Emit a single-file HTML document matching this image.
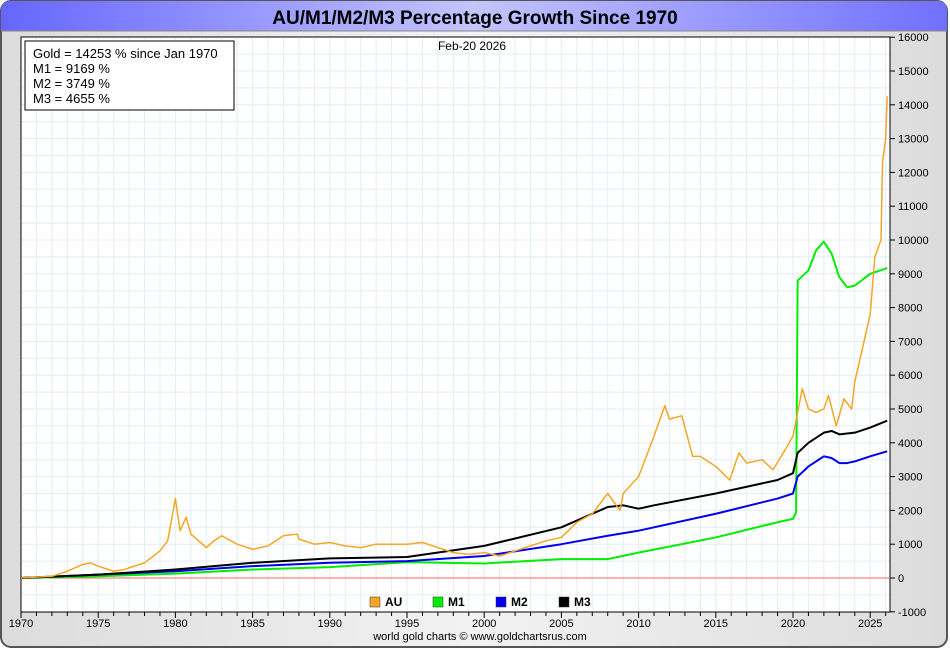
<!DOCTYPE html>
<html><head><meta charset="utf-8"><style>
body{margin:0;width:950px;height:650px;overflow:hidden;background:#fff;font-family:"Liberation Sans",sans-serif}
</style></head><body>
<svg id="c" width="950" height="650" xmlns="http://www.w3.org/2000/svg" font-family="Liberation Sans, sans-serif">
<defs>
<linearGradient id="tg" x1="0" x2="1"><stop offset="0" stop-color="#6666ff"/><stop offset="0.5" stop-color="#c4c4ff"/><stop offset="1" stop-color="#7070ff"/></linearGradient>
<linearGradient id="bg" x1="0" x2="1"><stop offset="0" stop-color="#dcdcdc"/><stop offset="0.5" stop-color="#f2f2f2"/><stop offset="1" stop-color="#dcdcdc"/></linearGradient>
</defs>
<rect x="1" y="1" width="946" height="646" rx="10" fill="url(#bg)" stroke="#555" stroke-width="2"/>
<path d="M1 31 V11 Q1 1 11 1 H937 Q947 1 947 11 V31 Z" fill="url(#tg)"/>
<line x1="1" y1="31" x2="947" y2="31" stroke="#888"/>
<text x="475" y="24" text-anchor="middle" font-size="19" font-weight="bold" fill="#000">AU/M1/M2/M3 Percentage Growth Since 1970</text>
<rect x="21" y="37" width="869" height="575" fill="#fff" stroke="#000"/>
<g id="grid"></g>
<g id="series"></g>
<g id="axes"></g>
<text x="472" y="50" text-anchor="middle" font-size="12">Feb-20  2026</text>
<rect x="25" y="41" width="209" height="69" fill="#fff" stroke="#000"/>
<text font-size="13"><tspan x="33" y="58">Gold = 14253 % since Jan 1970</tspan><tspan x="33" y="73">M1 = 9169 %</tspan><tspan x="33" y="88">M2 = 3749 %</tspan><tspan x="33" y="103">M3 = 4655 %</tspan></text>
<g id="legend" font-size="12" font-weight="bold"></g>
<text x="480" y="640" text-anchor="middle" font-size="11">world gold charts © www.goldchartsrus.com</text>
</svg>
<script>
const goldX=[1970,1972,1973,1974,1974.5,1975,1976,1976.7,1977,1978,1979,1979.5,1980.0,1980.3,1980.7,1981,1982,1982.5,1983,1984,1985,1986,1987,1987.9,1988,1989,1990,1991,1992,1993,1994,1995,1996,1997,1998,1999,2000,2001,2002,2003,2004,2005,2006,2007,2008,2008.8,2009,2010,2011,2011.7,2012,2012.8,2013.5,2014,2015,2015.9,2016.5,2017,2018,2018.7,2019.5,2020,2020.6,2021,2021.5,2022,2022.3,2022.8,2023.3,2023.8,2024,2024.5,2025,2025.3,2025.7,2025.8,2026.0,2026.1];
const goldY=[0,50,200,400,450,350,200,250,300,450,800,1100,2350,1400,1800,1300,900,1100,1250,1000,850,950,1250,1300,1150,1000,1050,950,900,1000,1000,1000,1050,900,750,700,750,650,800,950,1100,1200,1650,1900,2500,2000,2500,3000,4200,5100,4700,4800,3600,3600,3300,2900,3700,3400,3500,3200,3800,4200,5600,5000,4900,5000,5400,4500,5300,5000,5800,6800,7800,9500,10000,12300,13000,14253];
const m1X=[1970,1975,1980,1985,1990,1995,2000,2005,2008,2010,2015,2019,2020.0,2020.2,2020.3,2021,2021.5,2022,2022.5,2023,2023.5,2024,2025,2026.1];
const m1Y=[0,50,130,250,320,470,430,560,560,750,1200,1650,1750,1950,8800,9100,9700,9950,9600,8900,8600,8650,9000,9169];
const m2X=[1970,1975,1980,1985,1990,1995,2000,2005,2008,2010,2015,2019,2020,2020.3,2021,2022,2022.5,2023,2023.5,2024,2025,2026.1];
const m2Y=[0,100,200,350,450,500,650,1000,1250,1400,1900,2350,2500,3000,3300,3600,3550,3400,3400,3450,3600,3749];
const m3X=[1970,1975,1980,1985,1990,1995,2000,2005,2008,2009,2010,2011,2015,2019,2020,2020.3,2021,2022,2022.5,2023,2024,2025,2026.1];
const m3Y=[0,100,250,450,580,620,950,1500,2100,2150,2050,2150,2500,2900,3100,3700,4000,4300,4350,4250,4300,4450,4655];
const yTicks=[-1000,0,1000,2000,3000,4000,5000,6000,7000,8000,9000,10000,11000,12000,13000,14000,15000,16000];
const xTicks=[1970,1975,1980,1985,1990,1995,2000,2005,2010,2015,2020,2025];
const legendNames=["AU","M1","M2","M3"];
const legendColors=["#f5a623","#00ee00","#0000ee","#000000"];

const NS="http://www.w3.org/2000/svg";
const X=v=>21+(v-1970)*15.44;
const Y=v=>578-v*0.0338;
function mk(parent,tag,attrs){const e=document.createElementNS(NS,tag);for(const k in attrs)e.setAttribute(k,attrs[k]);document.getElementById(parent).appendChild(e);return e;}
for(let yr=1971;yr<=2026;yr++){const l=mk('grid','line',{x1:X(yr),x2:X(yr),y1:38,y2:611,stroke:'#e2eef8'});

}
for(let v=-500;v<16000;v+=500){const l=mk('grid','line',{x1:22,x2:889,y1:Y(v),y2:Y(v),stroke:'#e2eef8'});

}
const z=mk('grid','line',{x1:22,x2:889,y1:Y(0),y2:Y(0),stroke:'#ff6060'});


function series(xs,ys,col,name,w){const p=mk('series','polyline',{points:xs.map((x,i)=>X(x)+','+Y(ys[i])).join(' '),fill:'none',stroke:col,'stroke-width':w,'stroke-linejoin':'round'});

}
series(m1X,m1Y,'#00ee00','m1-line',2);
series(m2X,m2Y,'#0000ee','m2-line',2);
series(m3X,m3Y,'#000000','m3-line',2);
series(goldX,goldY,'#f5a623','gold-line',1.5);
yTicks.forEach(v=>{mk('axes','line',{x1:890,x2:895,y1:Y(v),y2:Y(v),stroke:'#000'});
const t=mk('axes','text',{x:898,y:Y(v)+4,'font-size':11});t.textContent=v;

});
for(let yr=1970;yr<=2026;yr++){mk('axes','line',{x1:X(yr),x2:X(yr),y1:612,y2:yr%5?616:618,stroke:'#000'});}
xTicks.forEach(v=>{const t=mk('axes','text',{x:X(v),y:627,'font-size':11,'text-anchor':'middle'});t.textContent=v;

});
legendNames.forEach((n,i)=>{const x0=370+i*63;
const r=mk('legend','rect',{x:x0,y:597,width:10,height:10,fill:legendColors[i],stroke:'#333','stroke-width':0.5});


const t=mk('legend','text',{x:x0+15,y:606});t.textContent=n;

});
</script>
</body></html>
